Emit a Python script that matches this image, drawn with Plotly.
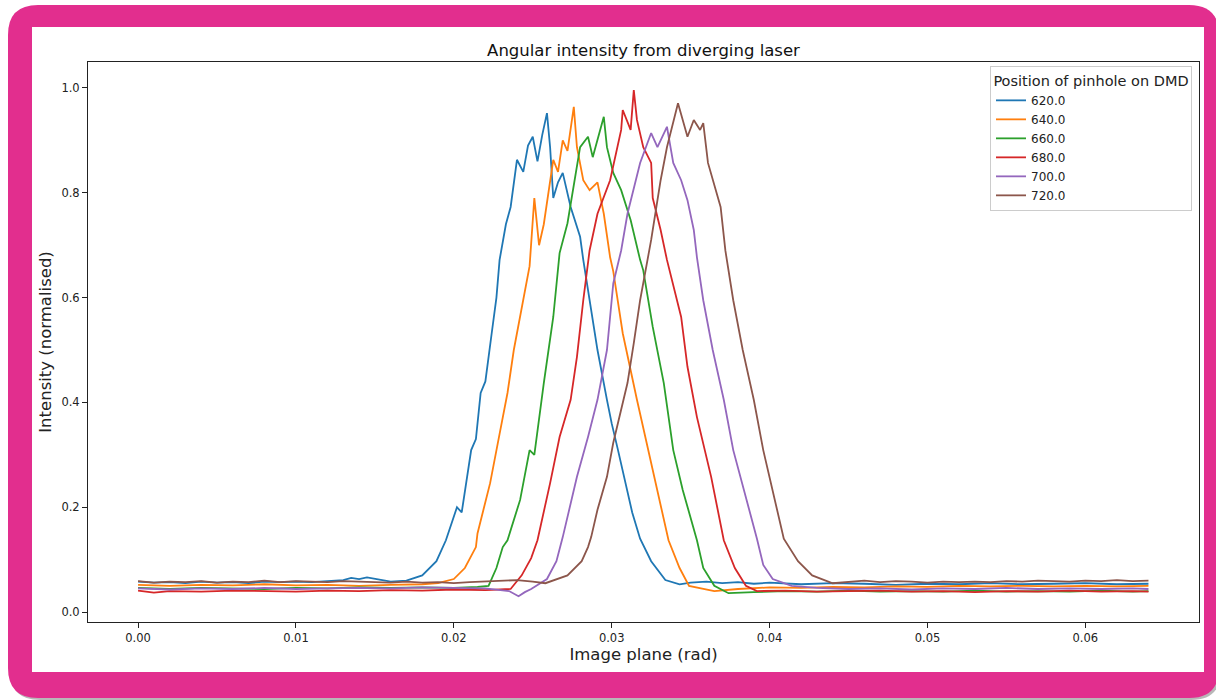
import plotly.graph_objects as go

# Pinhole positions on the DMD (legend labels)
positions = ["620.0", "640.0", "660.0", "680.0", "700.0", "720.0"]
colors = ["#1f77b4", "#ff7f0e", "#2ca02c", "#d62728", "#9467bd", "#8c564b"]

# Angular profiles: image-plane angle (rad) and normalised intensity
x_620 = [0.0000, 0.0010, 0.0020, 0.0030, 0.0040, 0.0050, 0.0060, 0.0070, 0.0080, 0.0090,
         0.0100, 0.0110, 0.0120, 0.0130, 0.0135, 0.0140, 0.0145, 0.0150, 0.0155, 0.0160,
         0.0170, 0.0180, 0.0189, 0.0195, 0.0202, 0.0205, 0.0211, 0.0214, 0.0217, 0.0220,
         0.0224, 0.0227, 0.0229, 0.0233, 0.0236, 0.0238, 0.0240, 0.0244, 0.0247, 0.0250,
         0.0253, 0.0256, 0.0259, 0.0261, 0.0263, 0.0266, 0.0269, 0.0274, 0.0280, 0.0282,
         0.0287, 0.0291, 0.0297, 0.0300, 0.0304, 0.0310, 0.0313, 0.0318, 0.0325, 0.0334,
         0.0343, 0.0350, 0.0360, 0.0370, 0.0380, 0.0390, 0.0400, 0.0420, 0.0440, 0.0460,
         0.0480, 0.0500, 0.0520, 0.0540, 0.0560, 0.0580, 0.0600, 0.0620, 0.0640]
y_620 = [0.058, 0.056, 0.057, 0.055, 0.058, 0.056, 0.057, 0.055, 0.058, 0.057,
         0.058, 0.057, 0.059, 0.061, 0.065, 0.063, 0.066, 0.063, 0.060, 0.058,
         0.060, 0.070, 0.097, 0.137, 0.200, 0.190, 0.309, 0.330, 0.418, 0.440,
         0.532, 0.600, 0.672, 0.740, 0.773, 0.820, 0.863, 0.840, 0.890, 0.907,
         0.860, 0.910, 0.952, 0.887, 0.790, 0.820, 0.838, 0.773, 0.716, 0.672,
         0.580, 0.500, 0.405, 0.360, 0.309, 0.227, 0.190, 0.140, 0.097, 0.061,
         0.053, 0.056, 0.058, 0.055, 0.057, 0.054, 0.056, 0.053, 0.055, 0.054,
         0.052, 0.054, 0.053, 0.055, 0.053, 0.054, 0.055, 0.053, 0.054]

x_640 = [0.0000, 0.0020, 0.0040, 0.0060, 0.0080, 0.0100, 0.0120, 0.0140, 0.0160, 0.0180,
         0.0190, 0.0200, 0.0207, 0.0214, 0.0215, 0.0223, 0.0229, 0.0234, 0.0238, 0.0244,
         0.0248, 0.0251, 0.0254, 0.0257, 0.0263, 0.0266, 0.0269, 0.0272, 0.0276, 0.0278,
         0.0282, 0.0286, 0.0291, 0.0295, 0.0299, 0.0301, 0.0307, 0.0316, 0.0323, 0.0329,
         0.0336, 0.0343, 0.0349, 0.0365, 0.0380, 0.0400, 0.0420, 0.0440, 0.0460, 0.0480,
         0.0500, 0.0520, 0.0540, 0.0560, 0.0580, 0.0600, 0.0620, 0.0640]
y_640 = [0.052, 0.050, 0.052, 0.051, 0.053, 0.051, 0.052, 0.050, 0.052, 0.053,
         0.055, 0.063, 0.084, 0.124, 0.150, 0.246, 0.340, 0.418, 0.500, 0.595,
         0.660, 0.790, 0.700, 0.740, 0.863, 0.840, 0.900, 0.880, 0.964, 0.887,
         0.824, 0.805, 0.820, 0.760, 0.677, 0.650, 0.532, 0.405, 0.309, 0.233,
         0.137, 0.084, 0.050, 0.040, 0.044, 0.047, 0.046, 0.048, 0.047, 0.049,
         0.048, 0.050, 0.049, 0.050, 0.049, 0.050, 0.049, 0.050]

x_660 = [0.0000, 0.0020, 0.0040, 0.0060, 0.0080, 0.0100, 0.0120, 0.0140, 0.0160, 0.0180,
         0.0200, 0.0215, 0.0222, 0.0227, 0.0231, 0.0234, 0.0242, 0.0248, 0.0251, 0.0257,
         0.0263, 0.0267, 0.0272, 0.0280, 0.0285, 0.0288, 0.0295, 0.0297, 0.0301, 0.0306,
         0.0312, 0.0318, 0.0320, 0.0326, 0.0333, 0.0339, 0.0345, 0.0354, 0.0358, 0.0365,
         0.0374, 0.0390, 0.0410, 0.0430, 0.0450, 0.0470, 0.0490, 0.0510, 0.0530, 0.0550,
         0.0570, 0.0590, 0.0610, 0.0630, 0.0640]
y_660 = [0.046, 0.044, 0.046, 0.045, 0.044, 0.046, 0.045, 0.047, 0.046, 0.047,
         0.046, 0.048, 0.050, 0.084, 0.124, 0.137, 0.214, 0.309, 0.300, 0.437,
         0.563, 0.685, 0.742, 0.887, 0.907, 0.868, 0.945, 0.887, 0.838, 0.805,
         0.748, 0.672, 0.652, 0.544, 0.437, 0.309, 0.233, 0.137, 0.084, 0.050,
         0.036, 0.038, 0.040, 0.039, 0.041, 0.039, 0.040, 0.039, 0.041, 0.039,
         0.040, 0.039, 0.041, 0.039, 0.040]

x_680 = [0.0000, 0.0010, 0.0020, 0.0040, 0.0060, 0.0080, 0.0100, 0.0120, 0.0140, 0.0160,
         0.0180, 0.0200, 0.0220, 0.0236, 0.0243, 0.0249, 0.0253, 0.0261, 0.0267, 0.0274,
         0.0278, 0.0282, 0.0286, 0.0291, 0.0299, 0.0306, 0.0307, 0.0312, 0.0314, 0.0316,
         0.0320, 0.0325, 0.0326, 0.0331, 0.0335, 0.0344, 0.0348, 0.0354, 0.0363, 0.0371,
         0.0378, 0.0385, 0.0392, 0.0410, 0.0430, 0.0450, 0.0470, 0.0490, 0.0510, 0.0530,
         0.0550, 0.0570, 0.0590, 0.0610, 0.0630, 0.0640]
y_680 = [0.041, 0.037, 0.040, 0.039, 0.041, 0.040, 0.039, 0.041, 0.040, 0.042,
         0.041, 0.043, 0.042, 0.044, 0.070, 0.103, 0.137, 0.246, 0.334, 0.405,
         0.487, 0.595, 0.690, 0.760, 0.824, 0.920, 0.958, 0.920, 0.996, 0.939,
         0.887, 0.857, 0.790, 0.729, 0.672, 0.563, 0.468, 0.372, 0.258, 0.137,
         0.084, 0.050, 0.040, 0.041, 0.039, 0.040, 0.041, 0.039, 0.040, 0.038,
         0.040, 0.039, 0.041, 0.039, 0.040, 0.039]

x_700 = [0.0000, 0.0020, 0.0040, 0.0060, 0.0080, 0.0100, 0.0120, 0.0140, 0.0160, 0.0180,
         0.0200, 0.0220, 0.0235, 0.0241, 0.0245, 0.0249, 0.0259, 0.0265, 0.0269, 0.0278,
         0.0285, 0.0291, 0.0297, 0.0301, 0.0306, 0.0310, 0.0318, 0.0325, 0.0329, 0.0335,
         0.0339, 0.0344, 0.0348, 0.0352, 0.0354, 0.0358, 0.0364, 0.0371, 0.0377, 0.0386,
         0.0392, 0.0396, 0.0402, 0.0414, 0.0430, 0.0450, 0.0470, 0.0490, 0.0510, 0.0530,
         0.0550, 0.0570, 0.0590, 0.0610, 0.0630, 0.0640]
y_700 = [0.045, 0.043, 0.045, 0.044, 0.046, 0.044, 0.045, 0.046, 0.045, 0.047,
         0.046, 0.045, 0.040, 0.030, 0.038, 0.044, 0.063, 0.097, 0.143, 0.258,
         0.334, 0.405, 0.500, 0.627, 0.690, 0.760, 0.857, 0.914, 0.887, 0.926,
         0.857, 0.824, 0.786, 0.729, 0.677, 0.595, 0.500, 0.405, 0.309, 0.208,
         0.140, 0.090, 0.063, 0.050, 0.046, 0.044, 0.045, 0.043, 0.045, 0.044,
         0.046, 0.044, 0.045, 0.044, 0.045, 0.044]

x_720 = [0.0000, 0.0010, 0.0020, 0.0030, 0.0040, 0.0050, 0.0060, 0.0070, 0.0080, 0.0090,
         0.0100, 0.0110, 0.0120, 0.0130, 0.0140, 0.0150, 0.0160, 0.0170, 0.0180, 0.0190,
         0.0200, 0.0210, 0.0220, 0.0230, 0.0240, 0.0250, 0.0258, 0.0272, 0.0281, 0.0285,
         0.0287, 0.0291, 0.0297, 0.0301, 0.0306, 0.0310, 0.0314, 0.0318, 0.0325, 0.0331,
         0.0335, 0.0342, 0.0348, 0.0352, 0.0356, 0.0358, 0.0361, 0.0364, 0.0369, 0.0372,
         0.0377, 0.0383, 0.0390, 0.0396, 0.0402, 0.0409, 0.0418, 0.0427, 0.0440, 0.0450,
         0.0460, 0.0470, 0.0480, 0.0490, 0.0500, 0.0510, 0.0520, 0.0530, 0.0540, 0.0550,
         0.0560, 0.0570, 0.0580, 0.0590, 0.0600, 0.0610, 0.0620, 0.0630, 0.0640]
y_720 = [0.059, 0.056, 0.058, 0.057, 0.059, 0.056, 0.058, 0.057, 0.060, 0.057,
         0.059, 0.058, 0.057, 0.059, 0.058, 0.057, 0.056, 0.058, 0.056, 0.057,
         0.055, 0.057, 0.058, 0.060, 0.061, 0.058, 0.055, 0.070, 0.097, 0.124,
         0.143, 0.195, 0.258, 0.323, 0.385, 0.437, 0.513, 0.595, 0.710, 0.824,
         0.887, 0.971, 0.907, 0.939, 0.920, 0.933, 0.857, 0.824, 0.773, 0.690,
         0.595, 0.500, 0.405, 0.309, 0.233, 0.140, 0.097, 0.070, 0.055, 0.058,
         0.060, 0.057, 0.059, 0.058, 0.056, 0.058, 0.057, 0.058, 0.057, 0.059,
         0.058, 0.060, 0.059, 0.058, 0.060, 0.059, 0.061, 0.059, 0.060]

series_x = [x_620, x_640, x_660, x_680, x_700, x_720]
series_y = [y_620, y_640, y_660, y_680, y_700, y_720]

x_ticks = [0.00, 0.01, 0.02, 0.03, 0.04, 0.05, 0.06]
y_ticks = [0.0, 0.2, 0.4, 0.6, 0.8, 1.0]

W, H = 1216, 700
ML, MR, MT, MB = 88, 17, 62, 78
PW, PH = W - ML - MR, H - MT - MB


def px(xp):
    return (xp - ML) / PW


def py(yp):
    return (H - MB - yp) / PH


def rounded_rect(x0, y0, x1, y1, r):
    """Rounded rectangle path in paper units from pixel corners (top-left origin)."""
    rx, ry = r / PW, r / PH
    a, b, c, d = px(x0), px(x1), py(y0), py(y1)  # left, right, top, bottom
    return (f"M{a + rx},{c} L{b - rx},{c} Q{b},{c} {b},{c - ry} "
            f"L{b},{d + ry} Q{b},{d} {b - rx},{d} L{a + rx},{d} "
            f"Q{a},{d} {a},{d + ry} L{a},{c - ry} Q{a},{c} {a + rx},{c} Z")


fig = go.Figure()
for name, xs, ys, col in zip(positions, series_x, series_y, colors):
    fig.add_trace(go.Scatter(x=xs, y=ys, mode="lines", name=name,
                             line=dict(color=col, width=1.8)))

font = "DejaVu Sans, sans-serif"
shapes = [
    dict(type="path", xref="paper", yref="paper", layer="below",
         path=rounded_rect(10, 8, 1221, 700, 30),
         fillcolor="rgba(0,0,0,0.28)", line=dict(width=0)),
    dict(type="path", xref="paper", yref="paper", layer="below",
         path=rounded_rect(8, 5, 1219, 698, 30),
         fillcolor="#E22E8E", line=dict(width=0)),
    dict(type="rect", xref="paper", yref="paper", layer="below",
         x0=px(32), x1=px(1204), y0=py(672), y1=py(27),
         fillcolor="white", line=dict(width=0)),
]

fig.update_layout(
    width=W, height=H,
    margin=dict(l=ML, r=MR, t=MT, b=MB),
    paper_bgcolor="white", plot_bgcolor="white",
    font=dict(family=font, color="#222"),
    shapes=shapes,
    title=dict(text="Angular intensity from diverging laser",
               x=0.5, xref="paper", xanchor="center",
               y=1 - 50 / H, yref="container", yanchor="middle",
               font=dict(size=16.5, color="#111")),
    xaxis=dict(range=[-0.00317, 0.0672], tickvals=x_ticks, tickformat=".2f",
               showgrid=False, zeroline=False, showline=True, mirror=True,
               linecolor="#222", linewidth=1, ticks="outside", ticklen=5,
               tickcolor="#222", tickfont=dict(size=11.5),
               title=dict(text="Image plane (rad)", font=dict(size=16.5),
                          standoff=2)),
    yaxis=dict(range=[-0.019, 1.0496], tickvals=y_ticks, tickformat=".1f",
               showgrid=False, zeroline=False, showline=True, mirror=True,
               linecolor="#222", linewidth=1, ticks="outside", ticklen=5,
               tickcolor="#222", tickfont=dict(size=11.5),
               title=dict(text="Intensity (normalised)", font=dict(size=16.5),
                          standoff=5)),
    legend=dict(x=px(1192), y=py(66), xanchor="right", yanchor="top",
                bgcolor="rgba(255,255,255,0.85)", bordercolor="#cccccc",
                borderwidth=1, font=dict(size=12),
                title=dict(text="Position of pinhole on DMD", side="top center",
                           font=dict(size=14.5)),
                tracegroupgap=0, itemwidth=30),
)

fig.write_html("out.html")
